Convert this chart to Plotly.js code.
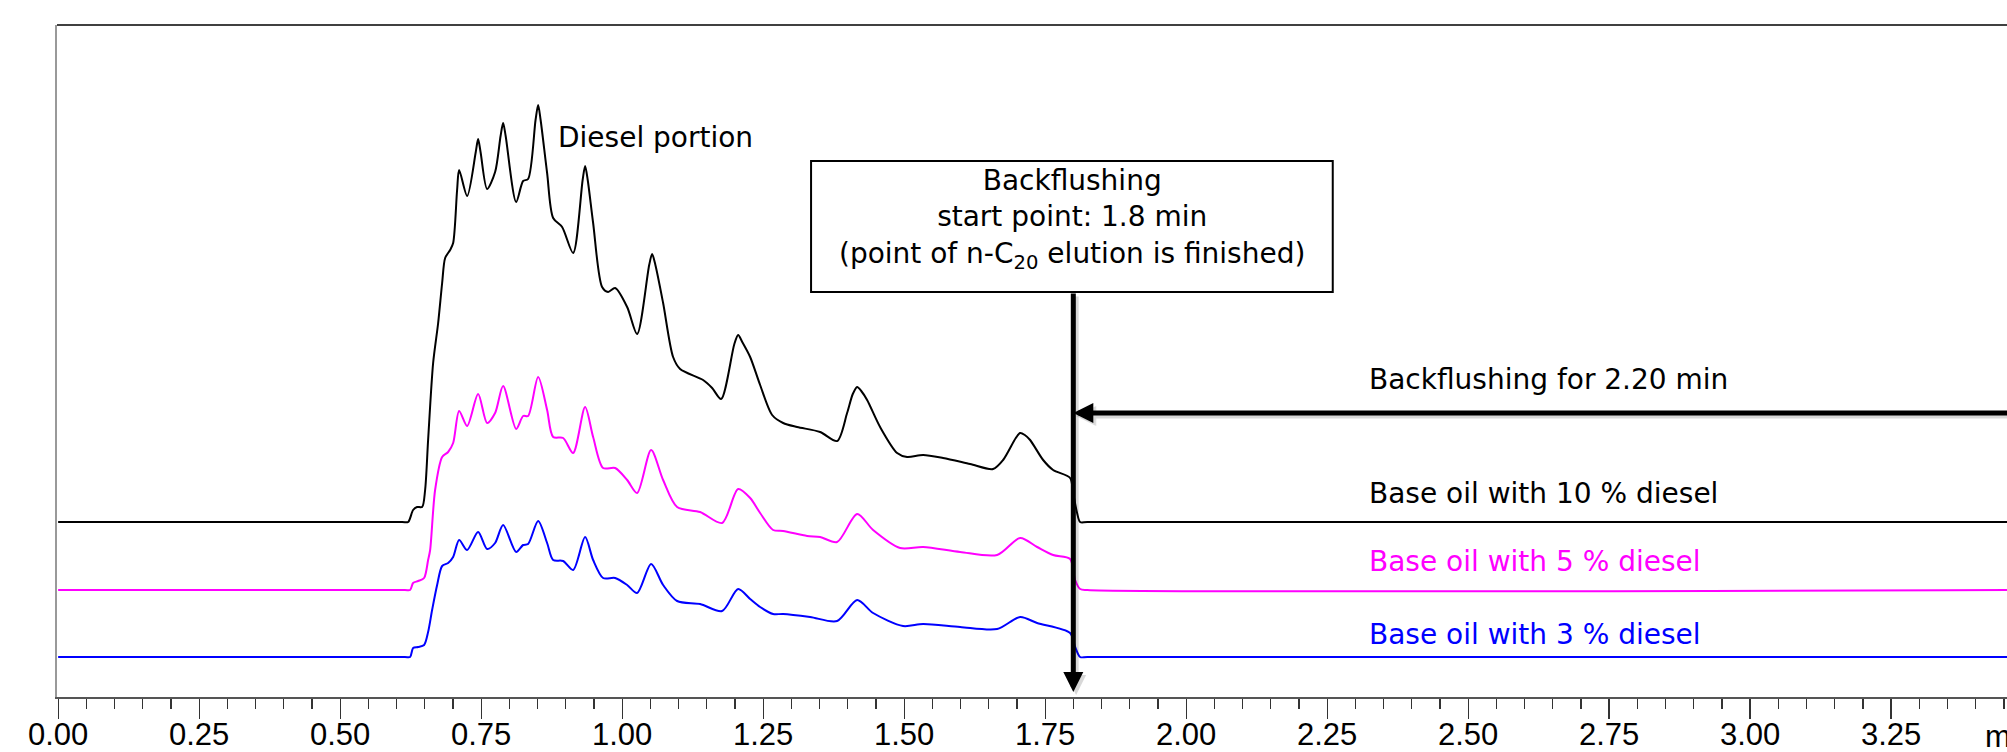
<!DOCTYPE html>
<html>
<head>
<meta charset="utf-8">
<script src="https://cdn.plot.ly/plotly-3.0.1.min.js"></script>
<style>html,body{margin:0;padding:0;background:#fff;}#chart{width:2007px;height:752px;}</style>
</head>
<body>
<div id="chart"></div>
<script>
// Retention time (min) and signal (arbitrary units above each trace's baseline)
const timeBlack = [0, 0.61, 0.6206, 0.6294, 0.6365, 0.6454, 0.6507, 0.6560, 0.6649, 0.6738, 0.6809, 0.6862, 0.6950, 0.7004, 0.7074, 0.7110, 0.7252, 0.7405, 0.7447, 0.7490, 0.7606, 0.7748, 0.7845, 0.7890, 0.7935, 0.8121, 0.8245, 0.8333, 0.8465, 0.8511, 0.8555, 0.8670, 0.8777, 0.8936, 0.9131, 0.9300, 0.9344, 0.9390, 0.9486, 0.9645, 0.9752, 0.9876, 1.0089, 1.0266, 1.0480, 1.0532, 1.0590, 1.0727, 1.0904, 1.1028, 1.1436, 1.1596, 1.1755, 1.1990, 1.2057, 1.2130, 1.2270, 1.2447, 1.2660, 1.2855, 1.3103, 1.3511, 1.3812, 1.3989, 1.4090, 1.4167, 1.4240, 1.4344, 1.4574, 1.4876, 1.5053, 1.5337, 1.5691, 1.6170, 1.6578, 1.6755, 1.6980, 1.7057, 1.7140, 1.7234, 1.7465, 1.7642, 1.7943, 1.7996, 1.8067, 1.8121, 1.825, 3.46];
const signalBlack = [0, 0, 0, 12, 15, 15, 32, 82, 159, 199, 239, 264, 272, 279, 332, 352, 326, 370, 383, 370, 333, 350, 386, 399, 386, 320, 341, 343, 402, 417, 402, 349, 304, 295, 269, 342, 356, 342, 299, 235, 230, 234, 215, 188, 257, 268, 257, 219, 165, 153, 142, 134, 123, 178, 187, 180, 165, 137, 107, 99, 95, 90, 81, 109, 128, 135, 131, 122, 95, 69, 65, 67, 64, 58, 53, 62, 84, 89, 87, 82, 62, 52, 44, 29, 9, 0, 0, 0];

const timeMagenta = [0, 0.615, 0.6241, 0.6294, 0.6383, 0.6489, 0.6560, 0.6596, 0.6684, 0.6809, 0.6915, 0.7004, 0.7110, 0.7252, 0.7447, 0.7606, 0.7748, 0.7890, 0.8121, 0.8245, 0.8333, 0.8511, 0.8670, 0.8777, 0.8954, 0.9131, 0.9344, 0.9486, 0.9663, 0.9876, 1.0089, 1.0266, 1.0514, 1.0727, 1.0975, 1.1383, 1.1773, 1.2057, 1.2270, 1.2447, 1.2677, 1.2855, 1.3280, 1.3511, 1.3812, 1.4167, 1.4450, 1.4929, 1.5337, 1.5993, 1.6649, 1.7057, 1.7358, 1.7642, 1.7943, 1.8032, 1.8121, 1.825, 3.46];
const signalMagenta = [0, 0, 0, 7, 9, 12, 30, 40, 100, 133, 138, 147, 179, 164, 196, 167, 177, 204, 161, 174, 174, 213, 180, 153, 152, 137, 183, 153, 122, 122, 110, 97, 140, 110, 83, 78, 67, 101, 92, 77, 60, 59, 54, 53, 48, 76, 60, 42, 43, 38, 35, 52, 43, 35, 31, 10, 1, 0, 0];

const timeBlue = [0, 0.615, 0.6241, 0.6294, 0.6383, 0.6489, 0.6560, 0.6631, 0.6720, 0.6809, 0.6915, 0.7004, 0.7110, 0.7252, 0.7447, 0.7606, 0.7748, 0.7890, 0.8121, 0.8245, 0.8333, 0.8511, 0.8670, 0.8777, 0.8954, 0.9131, 0.9344, 0.9486, 0.9663, 0.9876, 1.0089, 1.0266, 1.0514, 1.0727, 1.0975, 1.1383, 1.1773, 1.2057, 1.2270, 1.2447, 1.2677, 1.2855, 1.3333, 1.3812, 1.4167, 1.4450, 1.4982, 1.5337, 1.5993, 1.6649, 1.7057, 1.7358, 1.7943, 1.8032, 1.8121, 1.825, 3.46];
const signalBlue = [0, 0, 0, 9, 10, 12, 25, 47, 72, 91, 94, 100, 117, 107, 125, 108, 114, 132, 105, 112, 113, 136, 114, 97, 96, 87, 120, 97, 79, 79, 72, 64, 93, 72, 56, 53, 46, 68, 58, 50, 43, 43, 40, 36, 57, 44, 31, 33, 30, 28, 40, 34, 24, 10, 0, 0, 0];

const seriesNames = ["Base oil with 10 % diesel", "Base oil with 5 % diesel", "Base oil with 3 % diesel"];
const seriesOffsets = [175, 107, 40];
const seriesColors = ["#000000", "#ff00ff", "#0000ff"];
const tickValues = [0, 0.25, 0.5, 0.75, 1.0, 1.25, 1.5, 1.75, 2.0, 2.25, 2.5, 2.75, 3.0, 3.25];
const tickLabels = ["0.00", "0.25", "0.50", "0.75", "1.00", "1.25", "1.50", "1.75", "2.00", "2.25", "2.50", "2.75", "3.00", "3.25"];
const backflushStart = 1.8;

const times = [timeBlack, timeMagenta, timeBlue];
const signals = [signalBlack, signalMagenta, signalBlue];

const traces = [2, 1, 0].map(i => ({
  x: times[i],
  y: signals[i].map(v => v + seriesOffsets[i]),
  type: "scatter",
  mode: "lines",
  name: seriesNames[i],
  line: {color: seriesColors[i], width: 2, shape: "spline", smoothing: 0.8},
  hoverinfo: "skip"
}));

const FONT = "DejaVu Sans, Verdana, sans-serif";
const TICKFONT = "Liberation Sans Narrow, Arial Narrow, sans-serif";
const annFont = (c) => ({family: FONT, size: 28, color: c});

const annotations = [
  {xref: "x", yref: "y", x: 0.883, y: 560, xanchor: "left", yanchor: "middle", showarrow: false,
   text: "Diesel portion", font: annFont("#000")},
  {xref: "x", yref: "y", x: 1.797, y: 478, xanchor: "center", yanchor: "middle", showarrow: false, align: "center",
   text: "Backflushing<br>start point: 1.8 min<br>(point of n-C<sub>20</sub> elution is finished)", font: annFont("#000")},
  {xref: "x", yref: "y", x: 2.321, y: 318, xanchor: "left", yanchor: "middle", showarrow: false,
   text: "Backflushing for 2.20 min", font: annFont("#000")},
  // soft shadows of the arrows
  {xref: "x", yref: "y", axref: "x", ayref: "y", x: backflushStart + 0.005, y: 2, ax: backflushStart + 0.005, ay: 402,
   text: "", showarrow: true, arrowhead: 2, arrowsize: 0.8, arrowwidth: 5, arrowcolor: "rgba(0,0,0,0.15)"},
  {xref: "x", yref: "y", axref: "x", ayref: "y", x: backflushStart + 0.005, y: 281, ax: 3.8, ay: 281,
   text: "", showarrow: true, arrowhead: 2, arrowsize: 0.8, arrowwidth: 5, arrowcolor: "rgba(0,0,0,0.15)"},
  // arrows
  {xref: "x", yref: "y", axref: "x", ayref: "y", x: backflushStart, y: 5, ax: backflushStart, ay: 405,
   text: "", showarrow: true, arrowhead: 2, arrowsize: 0.8, arrowwidth: 5, arrowcolor: "#000"},
  {xref: "x", yref: "y", axref: "x", ayref: "y", x: backflushStart, y: 284, ax: 3.8, ay: 284,
   text: "", showarrow: true, arrowhead: 2, arrowsize: 0.8, arrowwidth: 5, arrowcolor: "#000"},
  {xref: "paper", yref: "paper", x: (1983 - 57) / 1950, y: 0, yshift: -39, xanchor: "left", yanchor: "middle", showarrow: false,
   text: "min", font: {family: TICKFONT, size: 31, color: "#000"}}
];

seriesNames.forEach((n, i) => {
  annotations.push({xref: "x", yref: "y", x: 2.321, y: [204, 136, 63][i], xanchor: "left", yanchor: "middle",
    showarrow: false, text: n, font: annFont(seriesColors[i])});
});

const layout = {
  width: 2007, height: 752,
  margin: {l: 57, r: 0, t: 25, b: 55, pad: 0},
  paper_bgcolor: "#fff", plot_bgcolor: "#fff",
  showlegend: false,
  xaxis: {
    range: [-0.002, 3.4555], showgrid: false, zeroline: false,
    showline: true, linecolor: "#555", linewidth: 1.5,
    ticks: "outside", ticklen: 20, tickwidth: 1.2, tickcolor: "#333",
    tickvals: tickValues, ticktext: tickLabels, ticklabelstandoff: -11,
    tickfont: {family: TICKFONT, size: 31, color: "#000"},
    minor: {dtick: 0.05, tick0: 0, ticks: "outside", ticklen: 10, tickwidth: 1.2, tickcolor: "#333"}
  },
  yaxis: {
    range: [0, 672], showgrid: false, zeroline: false, showticklabels: false, ticks: "",
    showline: true, linecolor: "#999", linewidth: 2
  },
  shapes: [
    {type: "line", xref: "paper", yref: "paper", x0: 0, x1: 1, y0: 1, y1: 1, line: {color: "#000", width: 1.5}},
    {type: "rect", xref: "x", yref: "y", x0: 1.335, x1: 2.26, y0: 405, y1: 536, line: {color: "#000", width: 2}, fillcolor: "rgba(0,0,0,0)"}
  ],
  annotations: annotations
};

Plotly.newPlot("chart", traces, layout, {displayModeBar: false, staticPlot: true});
</script>
</body>
</html>
